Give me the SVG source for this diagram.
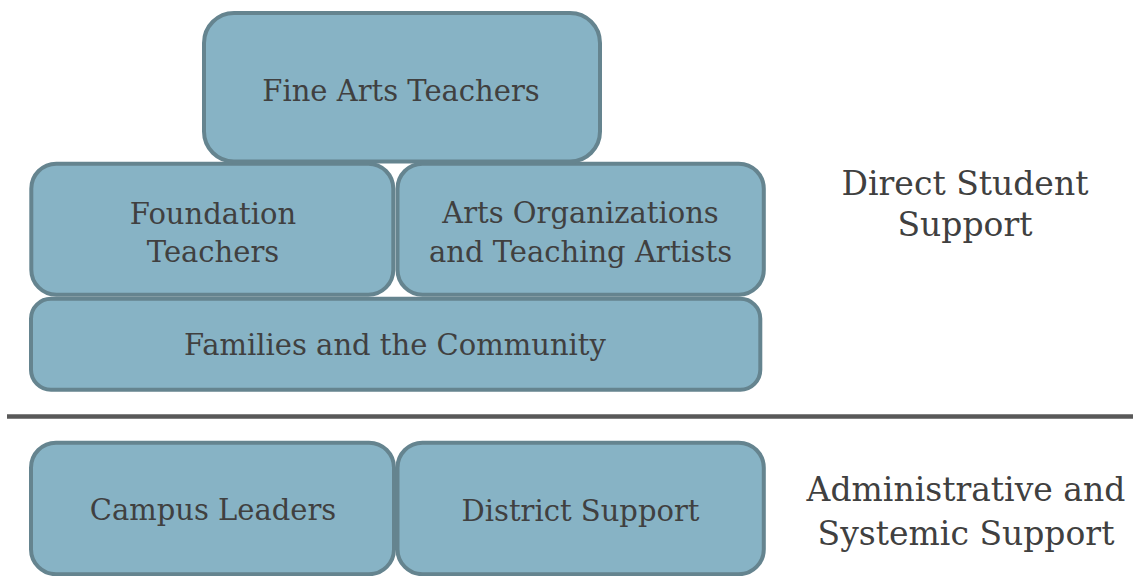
<svg xmlns="http://www.w3.org/2000/svg" width="1133" height="576" viewBox="0 0 1133 576">
  <style>
    .box { fill: #87B3C5; stroke: #65848F; stroke-width: 4; }
    .lbl { font-family: "DejaVu Serif", "Liberation Serif", serif; font-size: 29px; fill: #404040; text-anchor: middle; }
    .side { font-family: "DejaVu Serif", "Liberation Serif", serif; font-size: 33px; fill: #404040; text-anchor: middle; }
  </style>
  <rect width="1133" height="576" fill="#FFFFFF"/>

  <!-- lower tier: administrative support -->
  <g id="campus-leaders">
    <rect class="box" x="31" y="442.7" width="363" height="131.5" rx="25"/>
    <text class="lbl" x="213" y="520">Campus Leaders</text>
  </g>
  <g id="district-support">
    <rect class="box" x="397.5" y="442.7" width="366.3" height="131.5" rx="25"/>
    <text class="lbl" x="580.5" y="520.5">District Support</text>
  </g>

  <!-- upper tier: direct student support, bottom to top -->
  <g id="families-community">
    <rect class="box" x="31" y="298.7" width="729.3" height="91" rx="20"/>
    <text class="lbl" x="395" y="354.5">Families and the Community</text>
  </g>
  <g id="foundation-teachers">
    <rect class="box" x="31.3" y="163.7" width="362" height="131" rx="25"/>
    <text class="lbl" x="213" y="223.5">Foundation</text>
    <text class="lbl" x="213" y="261.5">Teachers</text>
  </g>
  <g id="arts-organizations">
    <rect class="box" x="397.5" y="163.7" width="366.3" height="131" rx="25"/>
    <text class="lbl" x="580.5" y="223">Arts Organizations</text>
    <text class="lbl" x="580.5" y="261.5">and Teaching Artists</text>
  </g>
  <g id="fine-arts-teachers">
    <rect class="box" x="204" y="13" width="396" height="148.5" rx="30"/>
    <text class="lbl" x="401" y="100.5">Fine Arts Teachers</text>
  </g>

  <!-- divider between the two tiers -->
  <g id="connectors">
    <line x1="7" y1="416.5" x2="1133" y2="416.5" stroke="#595959" stroke-width="4.5"/>
  </g>

  <!-- tier captions -->
  <g id="caption-direct">
    <text class="side" x="965" y="194.5">Direct Student</text>
    <text class="side" x="965" y="236">Support</text>
  </g>
  <g id="caption-admin">
    <text class="side" x="966" y="500.5">Administrative and</text>
    <text class="side" x="966" y="544.5">Systemic Support</text>
  </g>
</svg>
